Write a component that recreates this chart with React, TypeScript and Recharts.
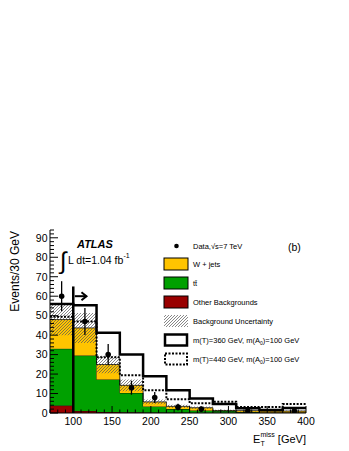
import { ComposedChart, Area, Line, Scatter, ErrorBar, XAxis, YAxis, ReferenceLine } from 'recharts';

// bin edges (GeV), 30 GeV bins from 70 to 400
const binEdges = [70, 100, 130, 160, 190, 220, 250, 280, 310, 340, 370, 400];

// stacked backgrounds, events per bin
const otherBkg = [3.8, 1.0, 0.5, 0.4, 0.3, 0.2, 0.1, 0.1, 0.3, 0.2, 0.2];
const ttbar = [29.2, 28.5, 16.7, 9.9, 3.1, 1.8, 1.2, 0.9, 0.2, 0.1, 0.1];
const wJets = [15.0, 14.2, 7.7, 3.9, 2.3, 1.4, 1.4, 0.3, 0.7, 0.7, 0.7];
const bkgUnc = [8.0, 7.7, 4.5, 3.0, 1.2, 0.8, 0.6, 0.4, 0.4, 0.3, 0.3];

// signal (stacked on background)
const sig360 = [56.0, 55.4, 41.2, 30.0, 18.9, 11.7, 7.4, 4.6, 2.4, 1.6, 2.6];
const sig440 = [49.5, 47.0, 28.6, 19.4, 11.7, 7.0, 5.0, 5.8, 3.1, 3.1, 4.6];

// data points
const dataX = [85, 115, 145, 175, 205, 235, 265, 325, 385];
const dataY = [60, 47, 30, 13, 8, 3, 2, 1, 1];
const dataErr = [7.7, 6.9, 5.5, 3.6, 2.8, 1.7, 1.4, 1.0, 1.0];

const xMajorTicks = [100, 150, 200, 250, 300, 350, 400];
const xMinorTicks = [70, 80, 90, 100, 110, 120, 130, 140, 150, 160, 170, 180, 190, 200, 210, 220, 230, 240, 250, 260, 270, 280, 290, 300, 310, 320, 330, 340, 350, 360, 370, 380, 390, 400];
const yMajorTicks = [0, 10, 20, 30, 40, 50, 60, 70, 80, 90];
const yMinorTicks = [0, 2, 4, 6, 8, 10, 12, 14, 16, 18, 20, 22, 24, 26, 28, 30, 32, 34, 36, 38, 40, 42, 44, 46, 48, 50, 52, 54, 56, 58, 60, 62, 64, 66, 68, 70, 72, 74, 76, 78, 80, 82, 84, 86, 88, 90, 92, 94];

const FONT = '"Liberation Sans", Arial, Helvetica, sans-serif';
const YELLOW = '#ffc400';
const GREEN = '#00a000';
const RED = '#990000';

const chartData = binEdges.map((x, i) => {
  const j = Math.min(i, otherBkg.length - 1);
  const total = otherBkg[j] + ttbar[j] + wJets[j];
  return {
    x,
    other: otherBkg[j],
    ttbar: ttbar[j],
    wjets: wJets[j],
    band: [total - bkgUnc[j], total + bkgUnc[j]],
    s360: sig360[j],
    s440: sig440[j],
  };
});

const points = dataX.map((x, i) => ({ x, y: dataY[i], err: dataErr[i] }));

const BottomTick = (props: any) => {
  const { x, y, payload } = props;
  const major = xMajorTicks.includes(payload.value);
  return (
    <g>
      <line x1={x} x2={x} y1={y} y2={y - (major ? 7 : 3.5)} stroke="#000" strokeWidth={1} />
      {major && (
        <text x={x} y={y + 12} textAnchor="middle" fontSize={10.5} fontFamily={FONT} fill="#000">
          {payload.value}
        </text>
      )}
    </g>
  );
};

const TopTick = (props: any) => {
  const { x, y, payload } = props;
  const major = xMajorTicks.includes(payload.value);
  return <line x1={x} x2={x} y1={y} y2={y + (major ? 6 : 3)} stroke="#000" strokeWidth={1} />;
};

const LeftTick = (props: any) => {
  const { x, y, payload } = props;
  const major = yMajorTicks.includes(payload.value);
  return (
    <g>
      <line x1={x} x2={x + (major ? 8 : 4)} y1={y} y2={y} stroke="#000" strokeWidth={1} />
      {major && (
        <text x={x - 2.5} y={y + 3.8} textAnchor="end" fontSize={10.5} fontFamily={FONT} fill="#000">
          {payload.value}
        </text>
      )}
    </g>
  );
};

const RightTick = (props: any) => {
  const { x, y, payload } = props;
  const major = yMajorTicks.includes(payload.value);
  return <line x1={x} x2={x - (major ? 7 : 3.5)} y1={y} y2={y} stroke="#000" strokeWidth={1} />;
};

const CutArrow = (props: any) => {
  const { x1, y1, x2, y2 } = props;
  return (
    <g stroke="#000" strokeWidth={2} fill="none">
      <line x1={x1} y1={y1} x2={x2} y2={y2} />
      <polyline points={`${x2 - 5},${y2 - 4} ${x2},${y2} ${x2 - 5},${y2 + 4}`} />
    </g>
  );
};

const DataDot = (props: any) => <circle cx={props.cx} cy={props.cy} r={2.8} fill="#000" />;

function Overlay() {
  const rows = [256, 275, 294, 313, 332, 351];
  const tx = 185;
  const ts = { fontSize: 7.5, fontFamily: FONT, fill: '#000' } as const;
  return (
    <svg width={341} height={443} style={{ position: 'absolute', left: 0, top: 0, pointerEvents: 'none' }}>
      <defs>
        <pattern id="hatchLeg" patternUnits="userSpaceOnUse" width="3" height="3">
          <path d="M-1,1 l2,-2 M0,3 l3,-3 M2,4 l2,-2" stroke="#555" strokeWidth={0.7} />
        </pattern>
      </defs>
      <text x={69} y={240} fontSize={11} fontWeight="bold" fontStyle="italic" fontFamily={FONT}>ATLAS</text>
      <text x={52} y={261} fontSize={24} fontFamily={FONT}>∫</text>
      <text x={60} y={256} fontSize={10.5} fontFamily={FONT}>
        L dt=1.04 fb<tspan fontSize={7} dy={-6}>-1</tspan>
      </text>
      <text x={280} y={243} fontSize={10.5} fontFamily={FONT}>(b)</text>

      <circle cx={168.5} cy={238} r={2.3} fill="#000" />
      <text x={tx} y={240.6} {...ts}>Data,√s=7 TeV</text>

      <rect x={156} y={rows[0] - 6} width={24} height={12} fill={YELLOW} stroke="#000" strokeWidth={1} />
      <text x={tx} y={rows[0] + 2.6} {...ts}>W + jets</text>
      <rect x={156} y={rows[1] - 6} width={24} height={12} fill={GREEN} stroke="#000" strokeWidth={1} />
      <text x={tx} y={rows[1] + 2.6} {...ts}>tt̄</text>
      <rect x={156} y={rows[2] - 6} width={24} height={12} fill={RED} stroke="#000" strokeWidth={1} />
      <text x={tx} y={rows[2] + 2.6} {...ts}>Other Backgrounds</text>
      <rect x={156} y={rows[3] - 6} width={24} height={12} fill="url(#hatchLeg)" />
      <text x={tx} y={rows[3] + 2.6} {...ts}>Background Uncertainty</text>
      <rect x={157} y={rows[4] - 5.5} width={22} height={11} fill="#fff" stroke="#000" strokeWidth={2.5} />
      <text x={tx} y={rows[4] + 2.6} {...ts}>
        m(T)=360 GeV, m(A<tspan fontSize={5} dy={2}>0</tspan><tspan dy={-2}>)=100 GeV</tspan>
      </text>
      <rect x={157} y={rows[5] - 5.5} width={22} height={11} fill="#fff" stroke="#000" strokeWidth={2} strokeDasharray="2 1.5" />
      <text x={tx} y={rows[5] + 2.6} {...ts}>
        m(T)=440 GeV, m(A<tspan fontSize={5} dy={2}>0</tspan><tspan dy={-2}>)=100 GeV</tspan>
      </text>

      <text x={11} y={223} transform="rotate(-90, 11, 223)" textAnchor="end" fontSize={12} fontFamily={FONT}>
        Events/30 GeV
      </text>
      <text x={298} y={435} textAnchor="end" fontSize={11} fontFamily={FONT}>
        E<tspan fontSize={7} dy={3}>T</tspan>
        <tspan fontSize={7} dx={-4.3} dy={-9}>miss</tspan>
        <tspan dy={6}> [GeV]</tspan>
      </text>
    </svg>
  );
}

export default function App() {
  return (
    <div style={{ position: 'relative', width: 341, height: 443, fontFamily: FONT }}>
      <ComposedChart
        width={341}
        height={443}
        data={chartData}
        margin={{ top: 222, right: 43, bottom: 18, left: 0 }}
      >
        <defs>
          <pattern id="hatch" patternUnits="userSpaceOnUse" width="3" height="3">
            <path d="M-1,1 l2,-2 M0,3 l3,-3 M2,4 l2,-2" stroke="#555" strokeWidth={0.7} />
          </pattern>
        </defs>
        <XAxis
          dataKey="x"
          type="number"
          domain={[70, 400]}
          allowDataOverflow
          ticks={xMinorTicks}
          interval={0}
          tick={BottomTick}
          tickLine={false}
          tickSize={0}
          tickMargin={0}
          height={20}
          axisLine={{ stroke: '#000', strokeWidth: 1 }}
        />
        <XAxis
          xAxisId="top"
          orientation="top"
          dataKey="x"
          type="number"
          domain={[70, 400]}
          allowDataOverflow
          ticks={xMinorTicks}
          interval={0}
          tick={TopTick}
          tickLine={false}
          tickSize={0}
          tickMargin={0}
          height={0}
          axisLine={{ stroke: '#000', strokeWidth: 1 }}
        />
        <YAxis
          type="number"
          domain={[0, 94]}
          allowDataOverflow
          ticks={yMinorTicks}
          interval={0}
          tick={LeftTick}
          tickLine={false}
          tickSize={0}
          tickMargin={0}
          width={42}
          axisLine={{ stroke: '#000', strokeWidth: 1 }}
        />
        <YAxis
          yAxisId="right"
          orientation="right"
          type="number"
          domain={[0, 94]}
          allowDataOverflow
          ticks={yMinorTicks}
          interval={0}
          tick={RightTick}
          tickLine={false}
          tickSize={0}
          tickMargin={0}
          width={0}
          axisLine={{ stroke: '#000', strokeWidth: 1 }}
        />

        <Area type="stepAfter" dataKey="other" stackId="bkg" fill={RED} fillOpacity={1} stroke="#000" strokeWidth={0.8} isAnimationActive={false} />
        <Area type="stepAfter" dataKey="ttbar" stackId="bkg" fill={GREEN} fillOpacity={1} stroke="#000" strokeWidth={0.8} isAnimationActive={false} />
        <Area type="stepAfter" dataKey="wjets" stackId="bkg" fill={YELLOW} fillOpacity={1} stroke="#000" strokeWidth={0.8} isAnimationActive={false} />
        <Area type="stepAfter" dataKey="band" fill="url(#hatch)" fillOpacity={1} stroke="none" isAnimationActive={false} />

        <Line type="stepAfter" dataKey="s440" stroke="#000" strokeWidth={2} strokeDasharray="2 1.5" dot={false} isAnimationActive={false} />
        <Line type="stepAfter" dataKey="s360" stroke="#000" strokeWidth={2.5} dot={false} isAnimationActive={false} />

        <ReferenceLine segment={[{ x: 100, y: 0 }, { x: 100, y: 65 }]} stroke="#000" strokeWidth={2.5} />
        <ReferenceLine segment={[{ x: 102, y: 60 }, { x: 117, y: 60 }]} shape={CutArrow} />

        <Scatter data={points} dataKey="y" shape={DataDot} isAnimationActive={false}>
          <ErrorBar dataKey="err" direction="y" width={0} stroke="#000" strokeWidth={1.3} />
        </Scatter>
      </ComposedChart>
      <Overlay />
    </div>
  );
}
